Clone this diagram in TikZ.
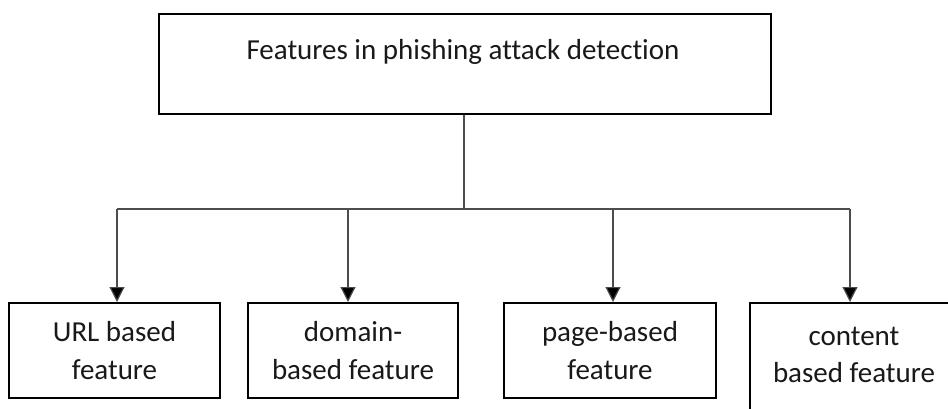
\documentclass[tikz,border=0pt]{standalone}
\usepackage{fontspec}
\setmainfont{Carlito}[Ligatures=NoCommon]
\usetikzlibrary{arrows.meta}
\begin{document}
\begin{tikzpicture}[x=1pt,y=-1pt,
  box/.style={draw=black,line width=2pt,align=center,inner sep=0pt,
    font=\fontsize{29}{38}\selectfont,text=black!90},
  lbl/.style={align=center,inner sep=0pt,font=\fontsize{29}{37}\selectfont,text=black!90},
  conn/.style={draw=black!70,line width=1.2pt},
  arr/.style={conn,-{Triangle[length=15pt,width=15pt,fill=black]}}]
\useasboundingbox (0,0) rectangle (948,409);
\clip (0,0) rectangle (948,409);
\fill[white] (0,0) rectangle (948,409);
\node[box,minimum width=612pt,minimum height=100pt,anchor=north west] (top) at (158,13) {};
\node[lbl,anchor=base] (title) at (463,60) {Features in phishing attack detection};
\node[box,minimum width=211pt,minimum height=95pt,anchor=north west] (url) at (8,302) {URL based\\feature};
\node[box,minimum width=210pt,minimum height=95pt,anchor=north west] (dom) at (247,302) {domain-\\based feature};
\node[box,minimum width=212pt,minimum height=95pt,anchor=north west] (page) at (503,302) {page-based\\feature};
\node[box,minimum width=210pt,minimum height=140pt,anchor=north west] (cont) at (749,302) {};
\node[lbl,anchor=base] (conttext) at (854,382) {content\\based feature};
\coordinate (hub) at (464,209);
\draw[conn] (top.south -| hub) -- (hub);
\draw[conn] (117,209) coordinate (hl) -- (850,209) coordinate (hr);
\draw[arr] (hl) -- (hl |- url.north);
\draw[arr] (348,209) -- (348 ,302);
\draw[arr] (613,209) -- (613,302);
\draw[arr] (hr) -- (hr |- cont.north);
\end{tikzpicture}
\end{document}
